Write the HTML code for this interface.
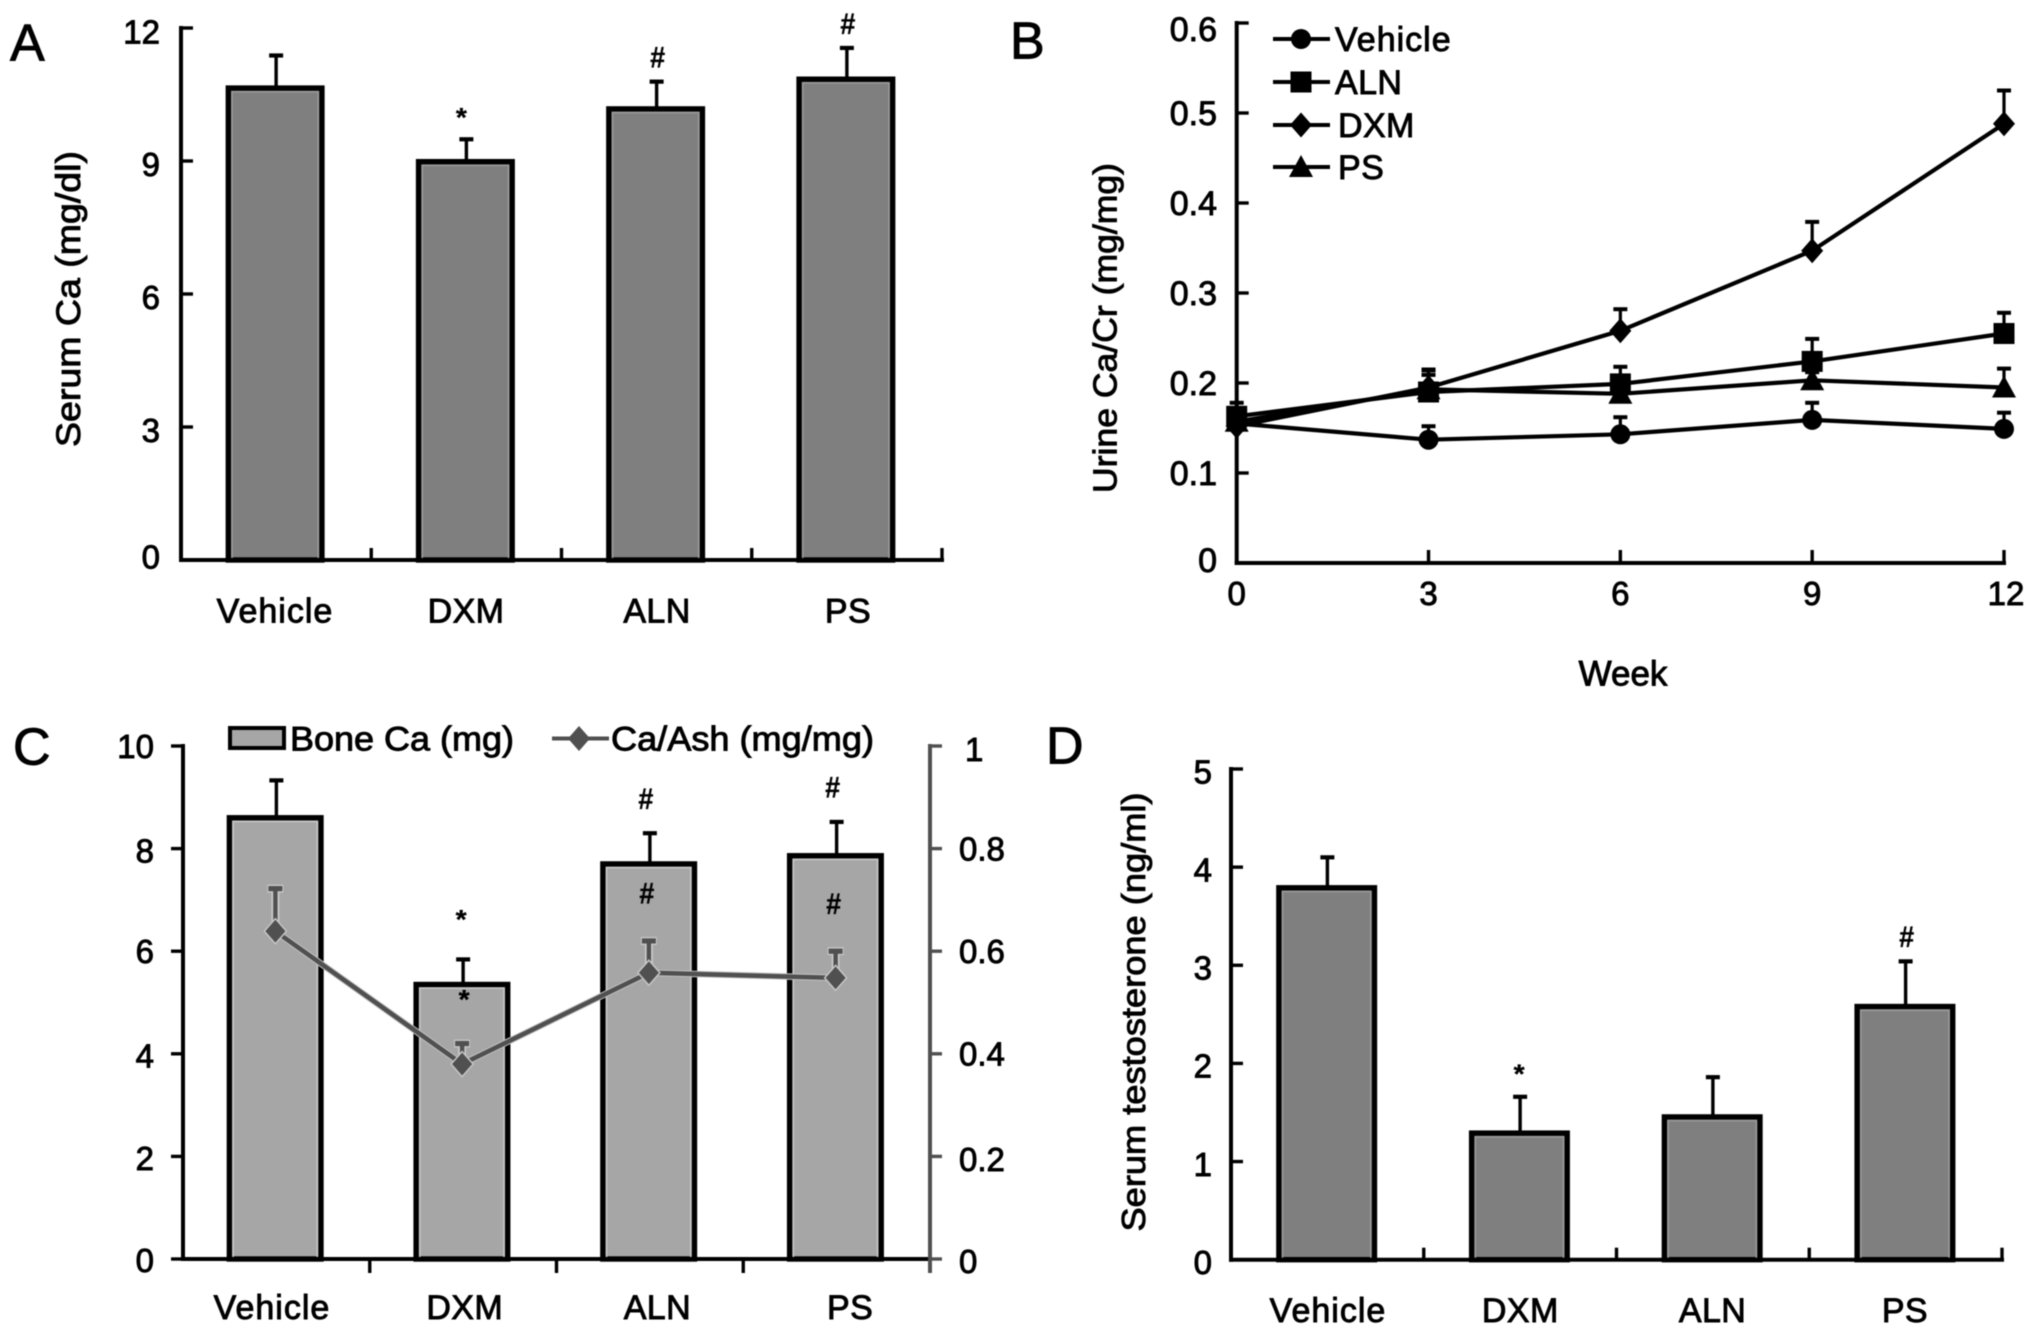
<!DOCTYPE html>
<html lang="en">
<head>
<meta charset="utf-8">
<title>Serum and urine calcium, bone calcium and testosterone charts</title>
<style>
html,body{margin:0;padding:0;background:#fff;width:2031px;height:1336px;overflow:hidden}
svg{display:block;filter:blur(.65px)}
text{font-family:"Liberation Sans",sans-serif;fill:#000;stroke:#000;stroke-width:.9px}
</style>
</head>
<body>
<svg id="figure" xmlns="http://www.w3.org/2000/svg" width="2031" height="1336" viewBox="0 0 2031 1336">
<rect x="0" y="0" width="2031" height="1336" fill="#fff"/>
</svg>
<script>
// ---------- data ----------
const categories = ['Vehicle', 'DXM', 'ALN', 'PS'];

const serumCaTicks = [0, 3, 6, 9, 12];
const serumCa = [10.69, 9.03, 10.22, 10.89];
const serumCaUpper = [11.38, 9.49, 10.79, 11.55];
const serumCaMarks = ['', '*', '#', '#'];

const weeks = [0, 3, 6, 9, 12];
const urineTicks = [0, 0.1, 0.2, 0.3, 0.4, 0.5, 0.6];
const urineVehicle = [0.155, 0.137, 0.143, 0.159, 0.149];
const urineVehicleUpper = [0.170, 0.152, 0.162, 0.178, 0.167];
const urineALN = [0.163, 0.190, 0.199, 0.224, 0.255];
const urineALNUpper = [0.178, 0.215, 0.218, 0.249, 0.278];
const urineDXM = [0.152, 0.195, 0.258, 0.347, 0.488];
const urineDXMUpper = [0.170, 0.214, 0.282, 0.379, 0.525];
const urinePS = [0.157, 0.193, 0.188, 0.203, 0.195];
const urinePSUpper = [0.172, 0.209, 0.199, 0.212, 0.216];

const boneTicks = [0, 2, 4, 6, 8, 10];
const ratioTicks = [0, 0.2, 0.4, 0.6, 0.8, 1];
const boneCa = [8.64, 5.39, 7.74, 7.90];
const boneCaUpper = [9.33, 5.84, 8.30, 8.52];
const boneCaMarks = ['', '*', '#', '#'];
const caAsh = [0.639, 0.380, 0.558, 0.548];
const caAshUpper = [0.722, 0.420, 0.620, 0.600];
const caAshMarks = ['', '*', '#', '#'];

const testosteroneTicks = [0, 1, 2, 3, 4, 5];
const testosterone = [3.81, 1.31, 1.475, 2.60];
const testosteroneUpper = [4.10, 1.66, 1.86, 3.04];
const testosteroneMarks = ['', '*', '', '#'];

// ---------- helpers ----------
const NS = 'http://www.w3.org/2000/svg';
const svg = document.getElementById('figure');
function scale(d0, d1, r0, r1) { return v => r0 + (v - d0) * (r1 - r0) / (d1 - d0); }
function mk(parent, tag, attrs) {
  const el = document.createElementNS(NS, tag);
  for (const k in attrs) el.setAttribute(k, attrs[k]);
  parent.appendChild(el);
  return el;
}
function group(name) {
  const g = mk(svg, 'g', {});
  
  
  return g;
}
function line(parent, name, x1, y1, x2, y2, color, w) {
  const el = mk(parent, 'line', {x1, y1, x2, y2, stroke: color, 'stroke-width': w});
  
  
  return el;
}
function label(parent, name, str, x, cy, size, anchor, len) {
  const a = {x, y: cy + size * 0.358, 'font-size': size, 'text-anchor': anchor};
  if (len) { a.textLength = len; a.lengthAdjust = 'spacingAndGlyphs'; }
  const el = mk(parent, 'text', a);
  el.textContent = str;
  
  
  return el;
}
function rotLabel(parent, name, str, cx, cy, size, len) {
  const el = mk(parent, 'text', {
    x: 0, y: size * 0.3, 'font-size': size, 'text-anchor': 'middle',
    textLength: len, lengthAdjust: 'spacingAndGlyphs',
    transform: 'translate(' + cx + ' ' + cy + ') rotate(-90)'
  });
  el.textContent = str;
  
  
  return el;
}
function sigMark(parent, name, str, x, cy) {
  // asterisk glyph sits high in the em box, hash sits centred on the cap height
  const size = str === '*' ? 27 : 30;
  const baseline = str === '*' ? cy + size * 0.56 : cy + size * 0.36;
  const el = mk(parent, 'text', {
    x, y: baseline, 'font-size': size, 'text-anchor': 'middle', 'font-weight': 'bold',
    textLength: str === '*' ? 11 : 15, lengthAdjust: 'spacingAndGlyphs', style: 'stroke-width:.3px'
  });
  el.textContent = str;
  
  
  return el;
}
function bar(parent, name, cx, topY, baseY, width, fill, inner) {
  const sw = 5.4;
  const outer = mk(parent, 'rect', {
    x: cx - width / 2 + sw / 2, y: topY, width: width - sw, height: baseY - topY,
    fill, stroke: '#000', 'stroke-width': sw
  });
  
  
  const edge = mk(parent, 'rect', {
    x: cx - width / 2 + sw + 1, y: topY + sw / 2 + 1, width: width - 2 * sw - 2, height: baseY - topY - sw / 2 - 1,
    fill: 'none', stroke: inner, 'stroke-width': 1.6
  });
  
  
}
function errorBar(parent, name, x, fromY, toY, color, w, cap, halo) {
  if (halo) {
    line(parent, name + '-halo-stem', x, fromY, x, toY, halo, w + 3.5);
    line(parent, name + '-halo-cap', x - cap / 2 - 1, toY, x + cap / 2 + 1, toY, halo, w + 3.5);
  }
  line(parent, name + '-stem', x, fromY, x, toY, color, w);
  line(parent, name + '-cap', x - cap / 2, toY, x + cap / 2, toY, color, w + .8);
}
function marker(parent, name, shape, x, y, color, halo) {
  let el;
  if (shape === 'circle') el = mk(parent, 'circle', {cx: x, cy: y, r: 10});
  if (shape === 'square') el = mk(parent, 'rect', {x: x - 10.5, y: y - 10.5, width: 21, height: 21});
  if (shape === 'diamond') el = mk(parent, 'polygon', {points: [x, y - 12.5, x + 11, y, x, y + 12.5, x - 11, y].join(',')});
  if (shape === 'triangle') el = mk(parent, 'polygon', {points: [x, y - 12, x + 12, y + 10, x - 12, y + 10].join(',')});
  el.setAttribute('fill', color);
  if (halo) { el.setAttribute('stroke', halo); el.setAttribute('stroke-width', 1.4); }
  
  
  return el;
}

// ---------- shared bar panel ----------
function barPanel(cfg) {
  const g = group(cfg.key + '-panel');
  const y = scale(0, cfg.max, cfg.y0, cfg.yTop);
  const band = (cfg.x1 - cfg.x0) / categories.length;
  const cx = i => cfg.x0 + (i + 0.5) * band;

  cfg.values.forEach((v, i) => {
    errorBar(g, cfg.key + '-error-' + categories[i].toLowerCase(), cx(i), y(v), y(cfg.upper[i]), '#000', 3.4, 14);
    bar(g, cfg.key + '-bar-' + categories[i].toLowerCase(), cx(i) + cfg.barDx, y(v) + 2, cfg.y0, cfg.barW, cfg.fill, cfg.innerEdge);
  });

  line(g, cfg.key + '-y-axis', cfg.x0, cfg.yTop - 2, cfg.x0, cfg.y0 + 2, '#000', 4);
  line(g, cfg.key + '-x-axis', cfg.x0 - 2, cfg.y0, cfg.x1 + 2, cfg.y0, '#000', 4);

  cfg.ticks.forEach(t => {
    line(g, cfg.key + '-y-tick-' + t, cfg.x0 + cfg.tickIn, y(t), cfg.x0, y(t), '#000', 3.4);
    label(g, cfg.key + '-y-tick-label-' + t, String(t), cfg.labelRight, y(t) + cfg.labelDy(t), 33, 'end');
  });
  categories.forEach((c, i) => {
    const tx = cfg.x0 + (i + 1) * band;
    line(g, cfg.key + '-x-tick-' + (i + 1), tx, cfg.y0 + cfg.xTickA, tx, cfg.y0 + cfg.xTickB, '#000', 3.4);
    const lx = cfg.catX0 + i * cfg.catStep;
    const el = label(g, cfg.key + '-category-label-' + c.toLowerCase(), c, lx, cfg.catY, 34, 'middle');
    el.setAttribute('letter-spacing', c === 'Vehicle' ? '1' : '.4');
  });
  return {g, y, cx};
}

// ---------- panel A ----------
{
  const p = barPanel({
    key: 'serum-ca', values: serumCa, upper: serumCaUpper, ticks: serumCaTicks, max: 12,
    x0: 181, x1: 942, y0: 560, yTop: 28, barW: 99, barDx: -1, fill: '#7f7f7f', innerEdge: '#9a9a9a',
    tickIn: 12, xTickA: -12, xTickB: 0, labelRight: 160,
    labelDy: t => t === 12 ? 3.5 : (t === 0 ? -3.5 : 3),
    catX0: 275, catStep: 191, catY: 610.5
  });
  serumCaMarks.forEach((m, i) => {
    const offset = m === '*' ? 28 : 25;
    if (m) sigMark(p.g, 'serum-ca-significance-' + categories[i].toLowerCase(), m, p.cx(i) - (m === '*' ? 5 : -1), p.y(serumCaUpper[i]) - offset);
  });
  rotLabel(p.g, 'serum-ca-y-axis-title', 'Serum Ca (mg/dl)', 70, 299, 34, 296);
  label(p.g, 'panel-label-a', 'A', 10, 42, 52, 'start');
}

// ---------- panel B ----------
{
  const g = group('urine-panel');
  const x = scale(0, 12, 1236.7, 2004);
  const y = scale(0, 0.6, 563, 23);
  const series = [
    {name: 'vehicle', title: 'Vehicle', shape: 'circle', v: urineVehicle, u: urineVehicleUpper},
    {name: 'dxm', title: 'DXM', shape: 'diamond', v: urineDXM, u: urineDXMUpper},
    {name: 'aln', title: 'ALN', shape: 'square', v: urineALN, u: urineALNUpper},
    {name: 'ps', title: 'PS', shape: 'triangle', v: urinePS, u: urinePSUpper}
  ];
  line(g, 'urine-y-axis', x(0), y(0.6) - 2, x(0), y(0) + 2, '#000', 4);
  line(g, 'urine-x-axis', x(0) - 2, y(0), x(12) + 2, y(0), '#000', 4);
  urineTicks.forEach(t => {
    line(g, 'urine-y-tick-' + t, x(0), y(t), x(0) + 12, y(t), '#000', 3.4);
    label(g, 'urine-y-tick-label-' + t, String(t), 1217, y(t) + (t === 0.6 ? 6 : (t === 0 ? -3 : 0)), 34, 'end');
  });
  weeks.forEach(w => {
    if (w) line(g, 'urine-x-tick-' + w, x(w), y(0) - 13, x(w), y(0), '#000', 3.4);
    label(g, 'urine-x-tick-label-' + w, String(w), x(w) + (w === 12 ? 2 : 0), 593, 33, 'middle');
  });
  series.forEach(s => {
    const pts = s.v.map((v, i) => x(weeks[i]) + ',' + y(v)).join(' ');
    s.v.forEach((v, i) => errorBar(g, 'urine-' + s.name + '-error-week-' + weeks[i], x(weeks[i]), y(v), y(s.u[i]), '#000', 3.2, 14));
    const pl = mk(g, 'polyline', {points: pts, fill: 'none', stroke: '#000', 'stroke-width': 4.2});
    
    
    s.v.forEach((v, i) => marker(g, 'urine-' + s.name + '-point-week-' + weeks[i], s.shape, x(weeks[i]), y(v), '#000'));
  });
  const legend = group('urine-legend');
  const legendRows = [
    {title: 'Vehicle', shape: 'circle', cy: 39, tx: 1335},
    {title: 'ALN', shape: 'square', cy: 82, tx: 1335},
    {title: 'DXM', shape: 'diamond', cy: 125, tx: 1338},
    {title: 'PS', shape: 'triangle', cy: 167, tx: 1338}
  ];
  legendRows.forEach(r => {
    const key = r.title.toLowerCase();
    line(legend, 'legend-line-' + key, 1273, r.cy, 1330, r.cy, '#000', 4);
    marker(legend, 'legend-marker-' + key, r.shape, 1301, r.cy, '#000');
    const el = label(legend, 'legend-label-' + key, r.title, r.tx, r.cy, 34, 'start');
    el.setAttribute('letter-spacing', r.title === 'Vehicle' ? '1' : '.4');
  });
  rotLabel(g, 'urine-y-axis-title', 'Urine Ca/Cr (mg/mg)', 1106.5, 328, 33, 330);
  label(g, 'urine-x-axis-title', 'Week', 1623, 673, 35, 'middle');
  label(g, 'panel-label-b', 'B', 1010, 40, 52, 'start');
}

// ---------- panel C ----------
{
  const grey = '#505050';
  const p = barPanel({
    key: 'bone-ca', values: boneCa, upper: boneCaUpper, ticks: boneTicks, max: 10,
    x0: 183, x1: 930, y0: 1259, yTop: 746, barW: 97, barDx: -1.2, fill: '#a6a6a6', innerEdge: '#c6c6c6',
    tickIn: -12, xTickA: 0, xTickB: 14, labelRight: 154,
    labelDy: t => t === 10 ? 0 : (t === 0 ? 1 : (t === 6 ? 0 : 2)),
    catX0: 272, catStep: 192.7, catY: 1307
  });
  const g = p.g;
  const r = scale(0, 1, 1259, 746);
  line(g, 'ca-ash-right-axis', 930, r(1) - 2, 930, r(0) + 14, grey, 4);
  ratioTicks.forEach(t => {
    line(g, 'ca-ash-y-tick-' + t, 930, r(t), 942, r(t), grey, 3.4);
    const nudge = (t === 0.8 || t === 0.6 || t === 0.4) ? 0 : (t === 0 ? 2 : 3);
    label(g, 'ca-ash-y-tick-label-' + t, String(t), t === 1 ? 965 : 959, r(t) + nudge, 33, 'start');
  });
  boneCaMarks.forEach((m, i) => {
    if (m) sigMark(g, 'bone-ca-significance-' + categories[i].toLowerCase(), m, p.cx(i) - (m === '*' ? 2 : 4), p.y(boneCaUpper[i]) - (m === '*' ? 46 : 35));
  });
  caAshMarks.forEach((m, i) => {
    if (m) sigMark(g, 'ca-ash-significance-' + categories[i].toLowerCase(), m, p.cx(i) + (m === '*' ? 1 : -3), r(caAshUpper[i]) - (m === '*' ? 50 : 48));
  });
  caAsh.forEach((v, i) => errorBar(g, 'ca-ash-error-' + categories[i].toLowerCase(), p.cx(i) - 1, r(v), r(caAshUpper[i]), grey, 4.4, 14, '#c9c9c9'));
  const halo = mk(g, 'polyline', {points: caAsh.map((v, i) => (p.cx(i) - 1) + ',' + r(v)).join(' '), fill: 'none', stroke: '#c4c4c4', 'stroke-width': 6.5});
  
  
  const pl = mk(g, 'polyline', {points: caAsh.map((v, i) => (p.cx(i) - 1) + ',' + r(v)).join(' '), fill: 'none', stroke: grey, 'stroke-width': 4.6});
  
  
  caAsh.forEach((v, i) => marker(g, 'ca-ash-point-' + categories[i].toLowerCase(), 'diamond', p.cx(i) - 1, r(v), grey, '#c9c9c9'));

  const legend = group('bone-legend');
  const sw = mk(legend, 'rect', {x: 230, y: 728, width: 54, height: 20, fill: '#a6a6a6', stroke: '#000', 'stroke-width': 4});
  
  
  label(legend, 'legend-label-bone-ca', 'Bone Ca (mg)', 290, 738.5, 34, 'start', 224);
  line(legend, 'legend-line-ca-ash', 552, 738.5, 609, 738.5, grey, 4);
  marker(legend, 'legend-marker-ca-ash', 'diamond', 579, 738.5, grey);
  label(legend, 'legend-label-ca-ash', 'Ca/Ash (mg/mg)', 611, 738.5, 34, 'start', 263);
  label(g, 'panel-label-c', 'C', 13, 746, 52, 'start');
}

// ---------- panel D ----------
{
  const p = barPanel({
    key: 'testosterone', values: testosterone, upper: testosteroneUpper, ticks: testosteroneTicks, max: 5,
    x0: 1231, x1: 2002, y0: 1259.7, yTop: 769, barW: 101, barDx: -.7, fill: '#7f7f7f', innerEdge: '#9a9a9a',
    tickIn: 12, xTickA: -12, xTickB: 0, labelRight: 1212,
    labelDy: t => 2.5,
    catX0: 1328, catStep: 192.3, catY: 1310
  });
  testosteroneMarks.forEach((m, i) => {
    if (m) sigMark(p.g, 'testosterone-significance-' + categories[i].toLowerCase(), m, p.cx(i) - (m === '*' ? 1 : -1), p.y(testosteroneUpper[i]) - (m === '*' ? 29 : 25));
  });
  rotLabel(p.g, 'testosterone-y-axis-title', 'Serum testosterone (ng/ml)', 1135, 1012, 33, 439);
  label(p.g, 'panel-label-d', 'D', 1046, 745, 52, 'start');
}
</script>
</body>
</html>
